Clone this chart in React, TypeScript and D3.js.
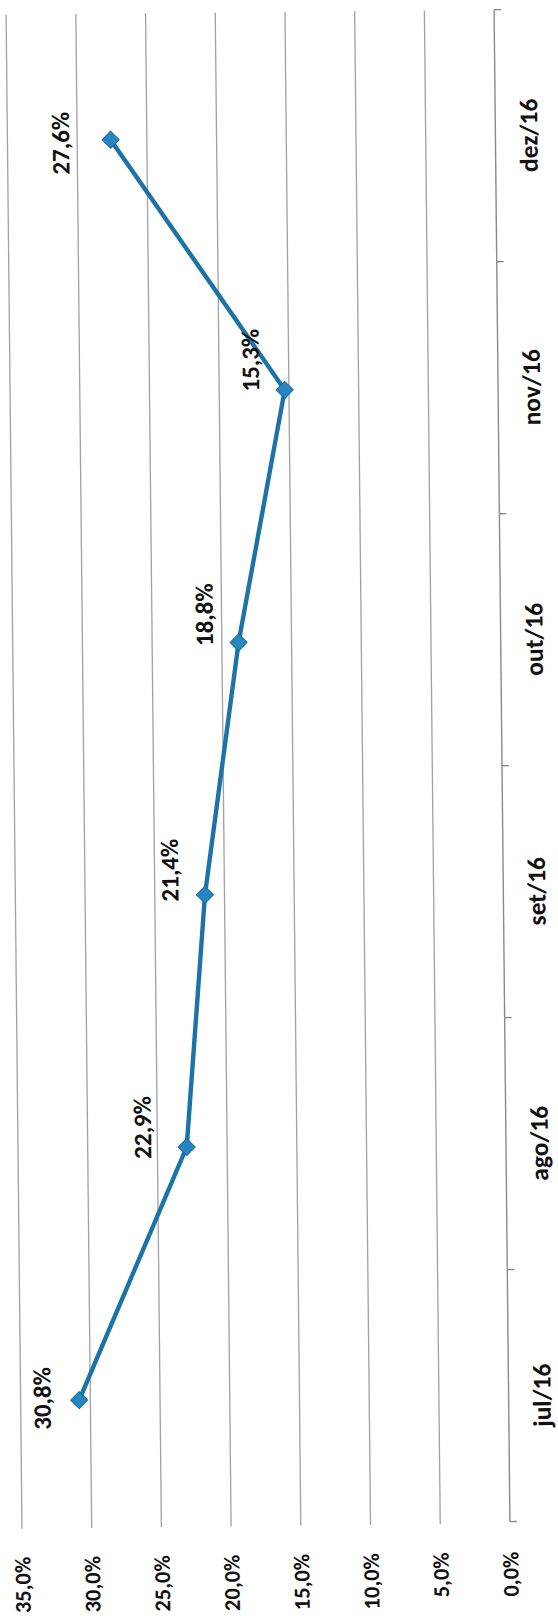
import * as d3 from "d3";

const categories = ["jul/16", "ago/16", "set/16", "out/16", "nov/16", "dez/16"];
const values = [30.8, 22.9, 21.4, 18.8, 15.3, 27.6];
const valueTicks = [0, 5, 10, 15, 20, 25, 30, 35];

// manual label nudges (left of point, along the category axis)
const labelNudge = [
  [37, -2],
  [44, -20],
  [35, -25],
  [34, -28],
  [34, -30],
  [50, 3],
];

const W = 558;
const H = 1616;
const font = "Carlito, Calibri, Lato, 'Open Sans', sans-serif";
const fmt = (v: number) => v.toFixed(1).replace(".", ",") + "%";

export default function App() {
  const x = d3.scaleLinear().domain([0, 35]).range([502, 14]);
  const y = d3.scaleBand<string>().domain(categories).range([1524, 12]);
  const bw = y.bandwidth();
  const cy = (c: string) => (y(c) as number) + bw / 2;
  const [top, bottom] = [12, 1524];

  const line = d3
    .line<number>()
    .x((d) => x(d))
    .y((_, i) => cy(categories[i]));

  const diamond = d3.symbol().type(d3.symbolDiamond2).size(185)();

  return (
    <svg
      width={W}
      height={H}
      style={{ position: "absolute", left: 0, top: 0, display: "block", background: "#fff" }}
    >
      <g transform="rotate(-0.6, 280, 766)">
        {valueTicks.map((t) => (
          <g key={t}>
            {t > 0 && (
              <line x1={x(t)} x2={x(t)} y1={top} y2={bottom + 2} stroke="#9ea2a6" strokeWidth={1.3} />
            )}
            <text
              transform={`translate(${x(t) + 8},${1554}) rotate(-90)`}
              textAnchor="end"
              fontFamily={font}
              fontWeight="bold"
              fontSize={22.5}
              fill="#111"
            >
              {fmt(t)}
            </text>
          </g>
        ))}
        {/* category axis */}
        <line x1={x(0)} x2={x(0)} y1={top} y2={bottom} stroke="#868a8e" strokeWidth={1.4} />
        {categories.map((c) => (
          <line
            key={"b" + c}
            x1={x(0)}
            x2={x(0) + 7}
            y1={y(c) as number}
            y2={y(c) as number}
            stroke="#868a8e"
            strokeWidth={1.4}
          />
        ))}
        <line x1={x(0)} x2={x(0) + 7} y1={bottom} y2={bottom} stroke="#868a8e" strokeWidth={1.4} />
        {categories.map((c) => (
          <text
            key={c}
            transform={`translate(544,${cy(c)}) rotate(-90)`}
            textAnchor="middle"
            fontFamily={font}
            fontWeight="bold"
            fontSize={25.5}
            fill="#111"
          >
            {c}
          </text>
        ))}
        <path d={line(values) as string} fill="none" stroke="#1b73a7" strokeWidth={4.4} strokeLinejoin="round" />
        {values.map((v, i) => (
          <path
            key={"m" + i}
            d={diamond as string}
            transform={`translate(${x(v)},${cy(categories[i])})`}
            fill="#2786c2"
            stroke="#1b6c9c"
            strokeWidth={1}
          />
        ))}
        {values.map((v, i) => (
          <text
            key={"l" + i}
            transform={`translate(${x(v) - labelNudge[i][0] + 8.5},${cy(categories[i]) + labelNudge[i][1]}) rotate(-90)`}
            textAnchor="middle"
            fontFamily={font}
            fontWeight="bold"
            fontSize={25}
            fill="#111"
          >
            {fmt(v)}
          </text>
        ))}
      </g>
    </svg>
  );
}
